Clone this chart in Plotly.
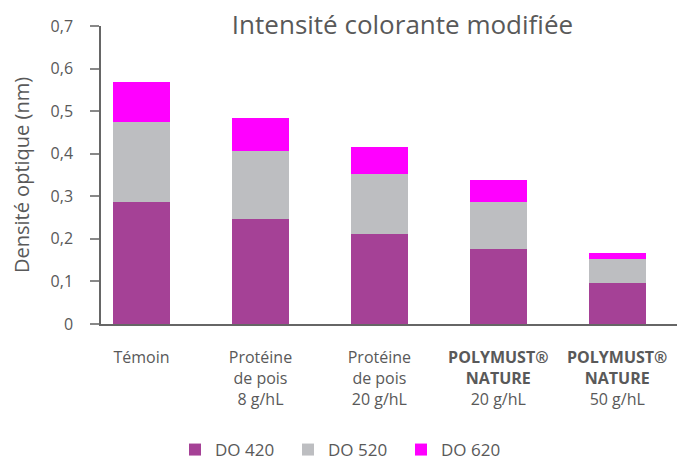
import plotly.graph_objects as go

categories = [
    "Témoin",
    "Protéine<br>de pois<br>8 g/hL",
    "Protéine<br>de pois<br>20 g/hL",
    "<b>POLYMUST®</b><br><b>NATURE</b><br>20 g/hL",
    "<b>POLYMUST®</b><br><b>NATURE</b><br>50 g/hL",
]
do420 = [0.287, 0.247, 0.212, 0.177, 0.097]
do520 = [0.188, 0.160, 0.141, 0.110, 0.056]
do620 = [0.094, 0.077, 0.063, 0.052, 0.014]
series_names = ["DO 420", "DO 520", "DO 620"]
colors = ["#A54196", "#BDBEC1", "#FF00FF"]
ytickvals = [0, 0.1, 0.2, 0.3, 0.4, 0.5, 0.6, 0.7]
yticktext = ["0", "0,1", "0,2", "0,3", "0,4", "0,5", "0,6", "0,7"]

FONT = "Open Sans"
TXT = "#595959"

fig = go.Figure()
for name, vals, col in zip(series_names, [do420, do520, do620], colors):
    fig.add_trace(go.Bar(
        x=list(range(len(categories))), y=vals, name=name,
        marker=dict(color=col, line=dict(width=0)),
        width=0.48,
    ))

# the page body adds an 8 px offset; the figure is sized to fill the window
fig.update_layout(
    barmode="stack",
    width=677, height=460,
    margin=dict(l=93, r=0, t=18, b=144, autoexpand=False),
    paper_bgcolor="white", plot_bgcolor="white",
    font=dict(family=FONT, color=TXT, size=16),
    title=dict(text="Intensité colorante modifiée", x=0.5827, xanchor="center",
               xref="container", y=0.963, yanchor="middle", yref="container",
               font=dict(size=26, color=TXT, family=FONT)),
    showlegend=True,
    legend=dict(orientation="h", x=0.2467, xanchor="left", xref="container",
                y=0, yref="container", yanchor="bottom",
                font=dict(size=17, color=TXT),
                entrywidth=68, itemwidth=30, traceorder="normal"),
    bargap=0.52,
)
fig.update_xaxes(
    tickmode="array", tickvals=list(range(len(categories))), ticktext=categories,
    range=[-0.341, 4.57], showline=True, linecolor="#666666", linewidth=1.5,
    ticks="", showgrid=False, zeroline=False, tickangle=0, automargin=False,
    tickfont=dict(size=16, color=TXT), ticklabelstandoff=18,
)
fig.update_yaxes(
    range=[0, 0.7], tickvals=ytickvals, ticktext=yticktext,
    showline=True, linecolor="#666666", linewidth=1.5, automargin=False,
    ticks="outside", ticklen=9, tickcolor="#888888", tickwidth=1.5,
    showgrid=False, zeroline=False,
    tickfont=dict(size=16, color=TXT), ticklabelstandoff=14,
    title=dict(text="Densité optique (nm)", font=dict(size=20, color=TXT), standoff=24),
)
fig.write_html("out.html")
